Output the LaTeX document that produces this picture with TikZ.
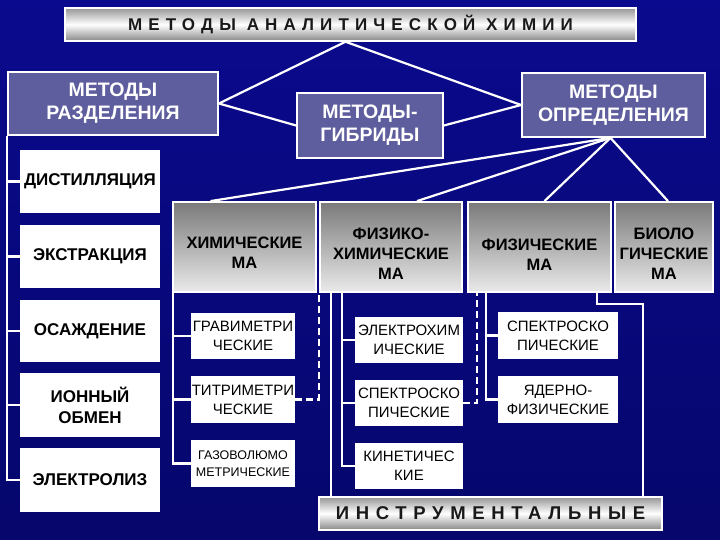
\documentclass[tikz,border=0pt]{standalone}
\usepackage{fontspec}
\setmainfont{Liberation Sans}
\newfontfamily\spacedfont[LetterSpace=36]{Liberation Sans}
\usetikzlibrary{calc}
\definecolor{bgtop}{RGB}{10,10,142}
\definecolor{bgbot}{RGB}{6,6,108}
\definecolor{hdr}{RGB}{94,94,158}
\definecolor{catTop}{RGB}{122,122,122}
\definecolor{catBot}{RGB}{234,234,234}
\definecolor{barEdge}{RGB}{150,150,150}
\definecolor{txtdark}{RGB}{25,25,25}
\begin{document}
\begin{tikzpicture}[x=1bp,y=-1bp,
  wh/.style 2 args={minimum width=#1bp, minimum height=#2bp},
  hdrbox/.style={draw=white, line width=1.8bp, fill=hdr, text=white, align=center, inner sep=0pt,
    font=\fontsize{19.5bp}{23bp}\selectfont\bfseries},
  barbox/.style={draw=white, line width=1.5bp, top color=barEdge, bottom color=barEdge!90!black, middle color=white,
    inner sep=0pt, text=txtdark},
  catbox/.style={draw=white, line width=1.8bp, top color=catTop, bottom color=catBot, inner sep=0pt},
  cattext/.style={align=center, inner sep=0pt, text=black, font=\fontsize{16.5bp}{20bp}\selectfont\bfseries},
  leftbox/.style={fill=white, align=center, inner sep=0pt, text=black, font=\fontsize{17bp}{21bp}\selectfont\bfseries},
  subbox/.style={fill=white, align=center, inner sep=0pt, text=black, font=\fontsize{15bp}{19bp}\selectfont},
  conn/.style={draw=white, line width=2.2bp},
  dconn/.style={conn, dash pattern=on 7bp off 4bp}
]
\useasboundingbox (0,0) rectangle (720,540);
\shade[top color=bgtop, bottom color=bgbot] (0,0) rectangle (720,540);

% title and headers
\node[barbox, wh={571}{33}] (title) at (350.5,24.5)
  {\spacedfont\bfseries\fontsize{17bp}{20bp}\selectfont МЕТОДЫ АНАЛИТИЧЕСКОЙ ХИМИИ};
\node[hdrbox, wh={210}{63}] (sep) at (113,103.5) {МЕТОДЫ\\РАЗДЕЛЕНИЯ};
\node[hdrbox, wh={146}{65}] (hyb) at (370,125.5) {МЕТОДЫ-\\ГИБРИДЫ};
\node[hdrbox, wh={183}{64}] (det) at (613.5,105) {МЕТОДЫ\\ОПРЕДЕЛЕНИЯ};

% separation methods
\node[leftbox, wh={140}{63}] (dist) at (90,181.5) {ДИСТИЛЛЯЦИЯ};
\node[leftbox, wh={140}{63}] (extr) at (90,256.5) {ЭКСТРАКЦИЯ};
\node[leftbox, wh={140}{62}] (prec) at (90,331) {ОСАЖДЕНИЕ};
\node[leftbox, wh={140}{64}] (ion) at (90,405) {ИОННЫЙ\\ОБМЕН};
\node[leftbox, wh={140}{64}] (elec) at (90,480) {ЭЛЕКТРОЛИЗ};

% categories
\node[catbox, wh={143}{90}] (chem) at (244.5,247) {};
\node[catbox, wh={142}{90}] (physchem) at (391,247) {};
\node[catbox, wh={143}{90}] (phys) at (539.5,247) {};
\node[catbox, wh={98}{90}] (bio) at (664,247) {};
\node[cattext] (chemT) at ([yshift=-6bp]chem.center) {ХИМИЧЕСКИЕ\\МА};
\node[cattext] (physchemT) at ([yshift=-7bp]physchem.center) {ФИЗИКО-\\ХИМИЧЕСКИЕ\\МА};
\node[cattext] (physT) at ([yshift=-8bp]phys.center) {ФИЗИЧЕСКИЕ\\МА};
\node[cattext] (bioT) at ([yshift=-7bp]bio.center) {БИОЛО\\ГИЧЕСКИЕ\\МА};

% sub-methods
\node[subbox, wh={104}{46}] (grav) at (243,336) {ГРАВИМЕТРИ\\ЧЕСКИЕ};
\node[subbox, wh={104}{47}] (titr) at (243,399.5) {ТИТРИМЕТРИ\\ЧЕСКИЕ};
\node[subbox, wh={104}{47}, font=\fontsize{12.5bp}{17bp}\selectfont] (gas) at (243,463.5) {ГАЗОВОЛЮМО\\МЕТРИЧЕСКИЕ};
\node[subbox, wh={108}{46}] (echem) at (409,340) {ЭЛЕКТРОХИМ\\ИЧЕСКИЕ};
\node[subbox, wh={108}{46}] (spec1) at (409,403) {СПЕКТРОСКО\\ПИЧЕСКИЕ};
\node[subbox, wh={108}{46}] (kin) at (409,466) {КИНЕТИЧЕС\\КИЕ};
\node[subbox, wh={120}{47}] (spec2) at (558,335.5) {СПЕКТРОСКО\\ПИЧЕСКИЕ};
\node[subbox, wh={120}{47}] (nuc) at (558,399.5) {ЯДЕРНО-\\ФИЗИЧЕСКИЕ};

\node[barbox, wh={343}{33}] (instr) at (490.5,513.5)
  {\spacedfont\bfseries\fontsize{18.5bp}{22bp}\selectfont ИНСТРУМЕНТАЛЬНЫЕ};

% top connectors
\draw[conn] ([xshift=-5bp]title.south) -- (sep.east);
\draw[conn] ([xshift=-5bp]title.south) -- (det.west);
\draw[conn] (sep.east) -- (hyb.west);
\draw[conn] (hyb.east) -- (det.west);
\draw[conn] ([xshift=-3bp]det.south) -- ([xshift=-34bp]chem.north);
\draw[conn] ([xshift=-3bp]det.south) -- ([xshift=26bp]physchem.north);
\draw[conn] ([xshift=-3bp]det.south) -- ([xshift=5bp]phys.north);
\draw[conn] ([xshift=-3bp]det.south) -- ([xshift=4bp]bio.north);

% separation tree
\foreach \b in {dist,extr,prec,ion,elec}
  \draw[conn] (sep.south west) |- (\b.west);

% chemical tree
\coordinate (ct) at ($(chem.south west)+(1,0)$);
\foreach \b in {grav,titr,gas}
  \draw[conn] (ct) |- (\b.west);

% physico-chemical tree
\coordinate (bl) at ($(physchem.south west)+(12,0)$);
\draw[conn] (bl) -- (bl |- instr.north);
\coordinate (pt) at ($(physchem.south west)+(23,0)$);
\foreach \b in {echem,spec1,kin}
  \draw[conn] (pt) |- (\b.west);

% physical tree
\coordinate (ft) at ($(phys.south west)+(19,0)$);
\foreach \b in {spec2,nuc}
  \draw[conn] (ft) |- (\b.west);

% right bracket
\coordinate (br) at ($(phys.south west)+(130,0)$);
\coordinate (brc) at (643,304);
\draw[conn] (br) |- (brc) -- (brc |- instr.north);

% dashed links
\draw[dconn] (titr.east) -| (physchem.south west);
\draw[dconn] (spec1.east) -| ($(phys.south west)+(10,0)$);
\end{tikzpicture}
\end{document}
